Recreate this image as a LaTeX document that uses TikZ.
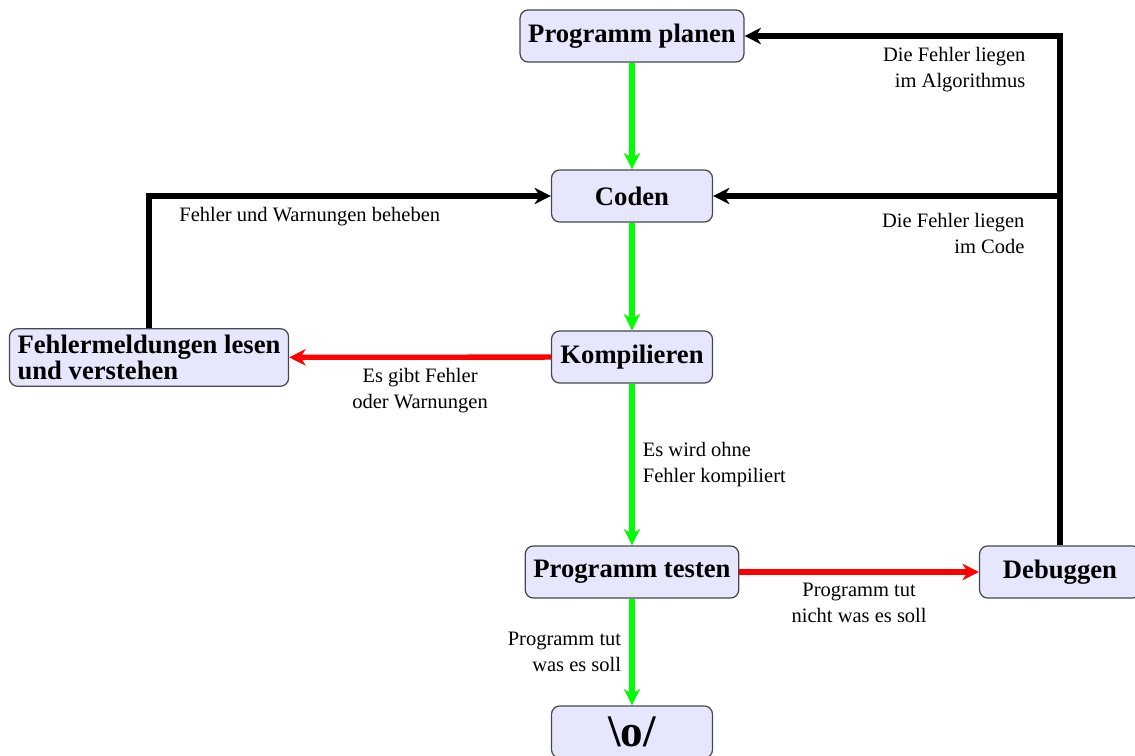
\documentclass[tikz,border=0pt]{standalone}
\usepackage{fontspec}
\setmainfont{Liberation Serif}
\usepackage{xcolor}
\usepackage{tikz}
\usetikzlibrary{positioning,arrows.meta,calc}
\definecolor{boxfill}{RGB}{230,230,252}
\definecolor{boxline}{RGB}{70,70,80}

\begin{document}
\begin{tikzpicture}[
  x={(0.4878pt,0pt)}, y={(0pt,-0.4878pt)},
  stepbox/.style={draw=boxline, line width=0.6pt, rounded corners=4pt, fill=boxfill, align=center, inner xsep=4pt, inner ysep=3pt, minimum width=78.5pt, minimum height=25.4pt, font=\fontsize{13}{11.5}\selectfont\bfseries},
  lbl/.style={font=\fontsize{10}{12.7}\selectfont, text=black, inner sep=4pt},
  ok/.style={-{Stealth[length=8pt,width=8pt,inset=2.5pt]}, green, line width=2.6pt},
  bad/.style={-{Stealth[length=8pt,width=8pt,inset=2.5pt]}, red, line width=2.6pt},
  back/.style={-{Stealth[length=8pt,width=8pt,inset=2.5pt]}, black, line width=3pt},
]
\useasboundingbox (0,0) rectangle (1135,756);
% nodes
\node[stepbox] (plan) at (632,36) {Programm planen};
\node[stepbox] (code) at (632,196) {Coden};
\node[stepbox] (comp) at (632,357) {Kompilieren};
\node[stepbox, align=left] (err) at (149,357.5) {Fehlermeldungen lesen\\und verstehen};
\node[stepbox] (test) at (632,572) {Programm testen};
\node[stepbox] (dbg) at (1060,572) {Debuggen};
\node[stepbox, font=\fontsize{22}{24}\selectfont\bfseries] (done) at (632,732) {\textbackslash o/};
% ---- main line ----
\draw[ok] (plan) -- (code);
\draw[ok] (code) -- (comp);
\draw[ok] (comp) -- node[lbl, right, align=left] {Es wird ohne\\Fehler kompiliert} (test);
\draw[ok] (test) -- node[lbl, left, align=right] {Programm tut\\was es soll} (done);
% ---- errors ----
\draw[bad] (comp) -- node[lbl, below, align=center] {Es gibt Fehler\\oder Warnungen} (err);
\draw[bad] (test) -- node[lbl, below, align=center] {Programm tut\\nicht was es soll} (dbg);
% ---- back edges ----
\draw[back] (err) |- node[lbl, pos=0.7, below] {Fehler und Warnungen beheben} (code);
\draw[back] (dbg) |- node[lbl, pos=0.535, anchor=north east, align=right, yshift=-3pt] {Die Fehler liegen\\im Code} (code);
\draw[back] (dbg) |- node[lbl, pos=0.537, anchor=north east, align=right] {Die Fehler liegen\\im Algorithmus} (plan);
\end{tikzpicture}
\end{document}
